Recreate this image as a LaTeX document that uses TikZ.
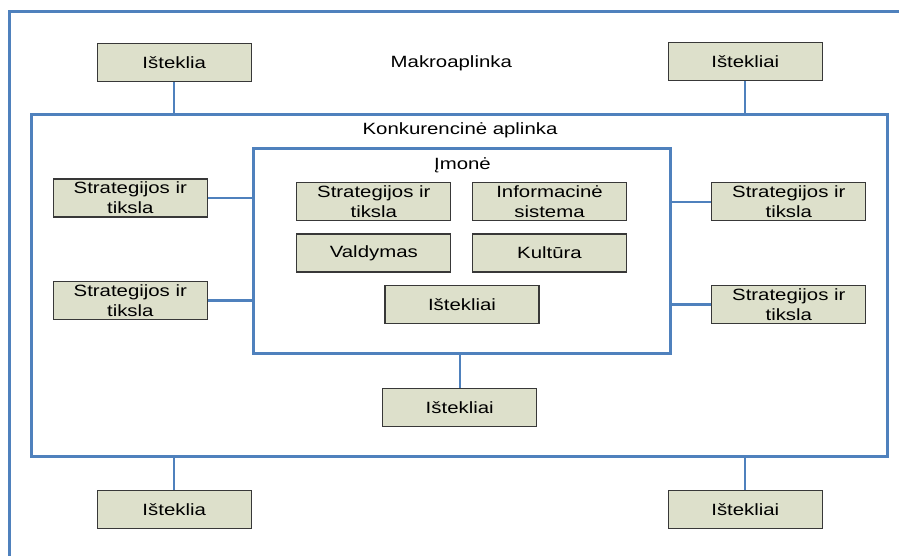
\documentclass[tikz,border=0pt]{standalone}
\usepackage{fontspec}
\setmainfont{Liberation Sans}[FakeStretch=1.25]
\definecolor{frameblue}{RGB}{79,129,189}
\definecolor{boxfill}{RGB}{221,224,203}
\definecolor{boxline}{RGB}{56,56,56}
\begin{document}
\begin{tikzpicture}[x=1pt,y=-1pt,
  every node/.style={font=\fontsize{16.3}{20}\selectfont},
  item/.style={draw=boxline, fill=boxfill, line width=1.2pt, inner sep=0pt,
    minimum width=154pt, minimum height=38pt, align=center},
  frame/.style={draw=frameblue, line width=2.2pt, inner sep=0pt},
  link/.style={draw=frameblue, line width=2.2pt},
  caption/.style={anchor=base, inner sep=0pt}]
\useasboundingbox (0,0) rectangle (899,556);

% outer environment border (runs off the page on the right and bottom)
\draw[link] (899,11.5) -- (9.5,11.5) -- (9.5,556);

% competitive environment and company frames
\node[frame, minimum width=856pt, minimum height=342pt] (comp) at (459.5,285.5) {};
\node[frame, minimum width=417pt, minimum height=205pt] (firm) at (462,251) {};

% captions
\node[caption] (macro) at (451.3,67.7) {Makroaplinka};
\node[caption] (comptxt) at (460,135) {Konkurencinė aplinka};
\node[caption] (firmtxt) at (462.5,169.3) {Įmonė};

% macro-environment boxes
\node[item] (tl) at (174.2,62.5) {Išteklia};
\node[item] (tr) at (745.3,61.3) {Ištekliai};
\node[item] (bl) at (174.2,509.7) {Išteklia};
\node[item] (br) at (745.3,509.7) {Ištekliai};

% competitive environment boxes
\node[item] (l1) at (130.3,198) {Strategijos ir\\tiksla};
\node[item] (l2) at (130.3,300.5) {Strategijos ir\\tiksla};
\node[item] (r1) at (788.8,201.7) {Strategijos ir\\tiksla};
\node[item] (r2) at (788.8,304.5) {Strategijos ir\\tiksla};
\node[item] (bc) at (459.7,407.2) {Ištekliai};

% company boxes
\node[item] (i1) at (373.8,201.7) {Strategijos ir\\tiksla};
\node[item] (i2) at (549.5,201.7) {Informacinė\\sistema};
\node[item] (i3) at (373.8,253) {Valdymas};
\node[item] (i4) at (549.5,253) {Kultūra};
\node[item] (i5) at (462,304.5) {Ištekliai};

% connectors
\draw[link] (tl.south) -- (tl.south |- comp.north);
\draw[link] (tr.south) -- (tr.south |- comp.north);
\draw[link] (bl.north) -- (bl.north |- comp.south);
\draw[link] (br.north) -- (br.north |- comp.south);
\draw[link] (l1.east) -- (l1.east -| firm.west);
\draw[link] (l2.east) -- (l2.east -| firm.west);
\draw[link] (r1.west) -- (r1.west -| firm.east);
\draw[link] (r2.west) -- (r2.west -| firm.east);
\draw[link] (bc.north) -- (bc.north |- firm.south);
\end{tikzpicture}
\end{document}
